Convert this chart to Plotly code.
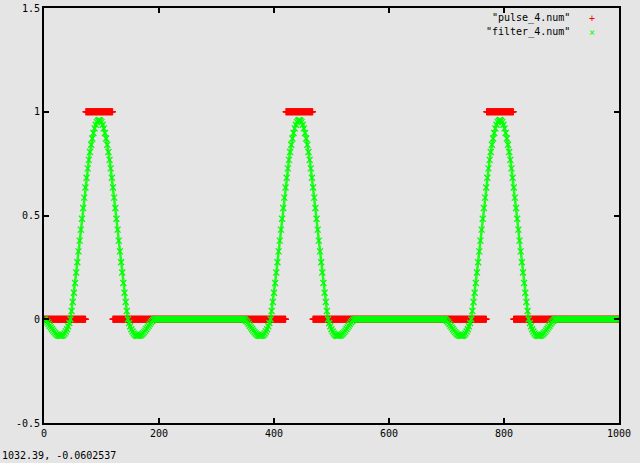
import plotly.graph_objects as go

# ---- data ----
x_min, x_max = 0, 1000
y_min, y_max = -0.5, 1.5
x_ticks = [0, 200, 400, 600, 800, 1000]
y_ticks = [-0.5, 0, 0.5, 1, 1.5]
y_tick_labels = ["-0.5", "0", "0.5", "1", "1.5"]

# pulse_4.num : rectangular pulses (value 1 between start and end, 0 elsewhere)
pulse_starts = [73, 421, 770]
pulse_ends = [119, 467, 816]

# filter_4.num : filtered pulse shape, sampled every 2 units from its start
filter_offsets = [0, 348, 697]
filter_step = 2
filter_shape = [
    0, -0.004, -0.009, -0.015, -0.023, -0.031, -0.039, -0.047, -0.055, -0.062,
    -0.068, -0.073, -0.077, -0.079, -0.080, -0.080, -0.078, -0.074, -0.068, -0.059,
    -0.048, -0.034, -0.018, 0, 0.040, 0.083, 0.128, 0.175, 0.225, 0.275,
    0.327, 0.379, 0.432, 0.484, 0.536, 0.586, 0.635, 0.682, 0.727, 0.768,
    0.806, 0.841, 0.871, 0.898, 0.920, 0.937, 0.950, 0.957, 0.960, 0.957,
    0.950, 0.937, 0.920, 0.898, 0.871, 0.841, 0.806, 0.768, 0.727, 0.682,
    0.635, 0.586, 0.536, 0.484, 0.432, 0.379, 0.327, 0.275, 0.225, 0.175,
    0.128, 0.083, 0.040, 0, -0.018, -0.034, -0.048, -0.059, -0.068, -0.074,
    -0.078, -0.080, -0.080, -0.079, -0.077, -0.073, -0.068, -0.062, -0.055, -0.047,
    -0.039, -0.031, -0.023, -0.015, -0.009, -0.004, 0,
]

series_names = ['"pulse_4.num"', '"filter_4.num"']
status_text = "1032.39, -0.0602537"

# ---- build series ----
pulse_x = list(range(x_min, x_max + 1))
pulse_y = [1 if any(s <= x <= e for s, e in zip(pulse_starts, pulse_ends)) else 0
           for x in pulse_x]

shape_len = (len(filter_shape) - 1) * filter_step
filter_x, filter_y = [], []
cursor = x_min
for off in filter_offsets:
    while cursor < off:
        filter_x.append(cursor)
        filter_y.append(0)
        cursor += filter_step
    for i, v in enumerate(filter_shape):
        filter_x.append(off + i * filter_step)
        filter_y.append(v)
    cursor = off + shape_len + filter_step
while cursor <= x_max:
    filter_x.append(cursor)
    filter_y.append(0)
    cursor += filter_step

RED = "#ff0000"
GREEN = "#00ff00"
BG = "#e5e5e5"
FONT = "DejaVu Sans Mono"

fig = go.Figure()
fig.add_trace(go.Scatter(
    x=pulse_x, y=pulse_y, mode="markers", name=series_names[0],
    marker=dict(symbol="cross-thin", size=5, line=dict(color=RED, width=1.5)),
    showlegend=False, hoverinfo="skip"))
# thin band joining the filter samples (same data) so the dense marker trail reads continuous
fig.add_trace(go.Scatter(
    x=filter_x, y=filter_y, mode="lines", name=series_names[1],
    line=dict(color=GREEN, width=2.5), opacity=0.85,
    showlegend=False, hoverinfo="skip"))
fig.add_trace(go.Scatter(
    x=filter_x, y=filter_y, mode="markers", name=series_names[1],
    marker=dict(symbol="x-thin", size=6, line=dict(color=GREEN, width=1.3)),
    showlegend=False, hoverinfo="skip"))

axis_common = dict(showline=True, linecolor="black", linewidth=2, mirror="ticks",
                   ticks="inside", ticklen=5, tickwidth=1.5, tickcolor="black",
                   showgrid=False, zeroline=False, automargin=False,
                   tickfont=dict(family=FONT, size=10, color="black"))

fig.update_xaxes(range=[x_min, x_max], tickvals=x_ticks, **axis_common)
fig.update_yaxes(range=[y_min, y_max], tickvals=y_ticks, ticktext=y_tick_labels,
                 **axis_common)

annotations = [
    dict(xref="paper", yref="paper", x=0.918, y=0.975, xanchor="right", yanchor="middle",
         text=series_names[0], showarrow=False, font=dict(family=FONT, size=10, color="black")),
    dict(xref="paper", yref="paper", x=0.918, y=0.942, xanchor="right", yanchor="middle",
         text=series_names[1], showarrow=False, font=dict(family=FONT, size=10, color="black")),
    dict(xref="paper", yref="paper", x=0.953, y=0.975, xanchor="center", yanchor="middle",
         text="+", showarrow=False, font=dict(family=FONT, size=10, color=RED)),
    dict(xref="paper", yref="paper", x=0.953, y=0.942, xanchor="center", yanchor="middle",
         text="×", showarrow=False, font=dict(family=FONT, size=10, color=GREEN)),
    dict(xref="paper", yref="paper", x=-0.0765, y=-0.078, xanchor="left", yanchor="middle",
         text=status_text, showarrow=False, font=dict(family=FONT, size=10, color="black")),
]

fig.update_layout(
    width=640, height=463,
    margin=dict(l=44, r=21, t=8, b=40, autoexpand=False),
    paper_bgcolor=BG, plot_bgcolor=BG,
    annotations=annotations,
    showlegend=False,
)

fig.write_html("out.html", config={"displayModeBar": False},
               post_script="document.body.style.margin='0';document.body.style.overflow='hidden';")
